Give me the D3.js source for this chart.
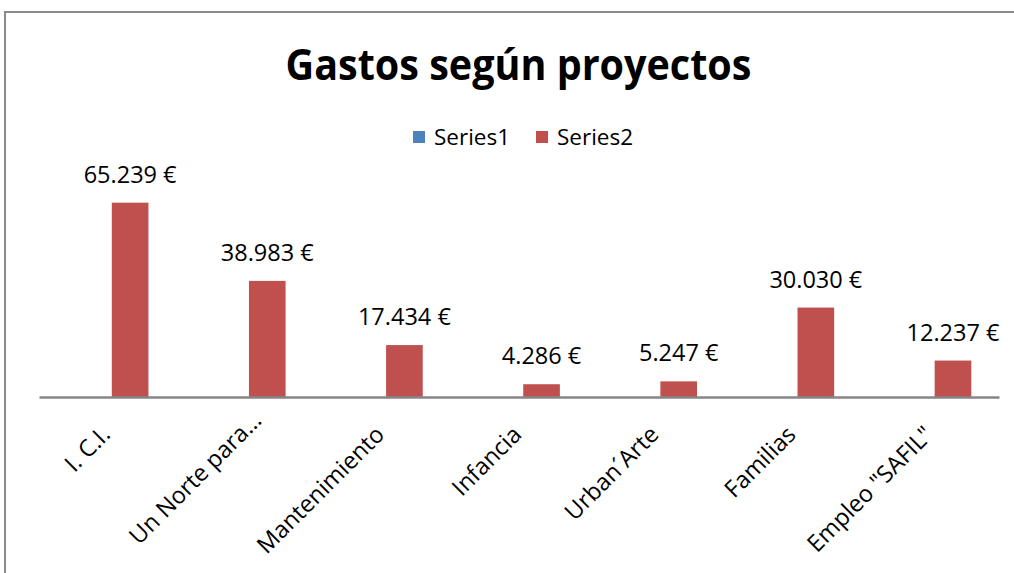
<!DOCTYPE html>
<html><head><meta charset="utf-8">
<script src="https://cdn.jsdelivr.net/npm/d3@7"></script>
<style>body{margin:0;background:#fff}svg{display:block}text{font-family:"Open Sans",sans-serif}</style>
</head><body>
<script>
const categories = ["I. C.I.", "Un Norte para…", "Mantenimiento", "Infancia", "Urban´Arte", "Familias", "Empleo \"SAFIL\""];
const series1 = [0, 0, 0, 0, 0, 0, 0];
const series2 = [65239, 38983, 17434, 4286, 5247, 30030, 12237];
const seriesNames = ["Series1", "Series2"];
const colors = ["#4F81BD", "#C0504D"];
const title = "Gastos según proyectos";

const W = 1014, H = 573;
const svg = d3.select("body").append("svg").attr("width", W).attr("height", H);

// outer chart border
svg.append("path").attr("d", `M5,${H} V12 H${W}`).attr("fill", "none").attr("stroke", "#8a8a8a").attr("stroke-width", 2);

const plot = {left: 39, right: 999, top: 188.5, bottom: 397};
const x0 = d3.scaleBand().domain(categories).range([plot.left, plot.right]).padding(0);
const x1 = d3.scaleBand().domain(seriesNames)
  .range([x0.bandwidth() * 0.203, x0.bandwidth() * 0.798]).paddingInner(0.185).paddingOuter(0);
const y = d3.scaleLinear().domain([0, 70000]).range([plot.bottom, plot.top]);

const fmt = v => d3.format(",")(v).replace(/,/g, ".") + " €";

const data = categories.map((c, i) => ({cat: c, vals: [series1[i], series2[i]]}));

const g = svg.append("g");
data.forEach(d => {
  d.vals.forEach((v, s) => {
    if (!v) return;
    g.append("rect")
      .attr("x", x0(d.cat) + x1(seriesNames[s]))
      .attr("y", y(v))
      .attr("width", x1.bandwidth())
      .attr("height", y(0) - y(v))
      .attr("fill", colors[s]);
    g.append("text")
      .attr("x", x0(d.cat) + x1(seriesNames[s]) + x1.bandwidth() / 2)
      .attr("y", y(v) - 20)
      .attr("text-anchor", "middle")
      .attr("font-size", 23.5)
      .attr("fill", "#000")
      .text(fmt(v));
  });
});

// category axis
const ax = d3.axisBottom(x0).tickSize(0).tickPadding(0);
const axG = svg.append("g").attr("transform", `translate(0,${plot.bottom})`).call(ax);
axG.select(".domain").attr("stroke", "#868686").attr("stroke-width", 2.5);
axG.selectAll(".tick text")
  .attr("font-size", 23.5)
  .attr("fill", "#000")
  .attr("font-family", "'Open Sans', sans-serif")
  .attr("text-anchor", "end")
  .attr("dy", 0)
  .attr("dx", (d, i) => i === 1 ? 20 : 0)   // truncated label sits further along in the original
  .attr("transform", "translate(4,39) rotate(-45)")
  .attr("y", 0).attr("x", 0);

// title
svg.append("text").attr("transform", "translate(518.5,80) scale(0.93,1)").attr("text-anchor", "middle")
  .attr("font-size", 42.5).attr("font-weight", "bold").attr("fill", "#000").text(title);

// legend
const legX = [413, 536];
seriesNames.forEach((n, i) => {
  svg.append("rect").attr("x", legX[i]).attr("y", 131).attr("width", 12).attr("height", 12).attr("fill", colors[i]);
  svg.append("text").attr("x", legX[i] + 21).attr("y", 144.5).attr("font-size", 22.5).attr("fill", "#000").text(n);
});
</script>
</body></html>
